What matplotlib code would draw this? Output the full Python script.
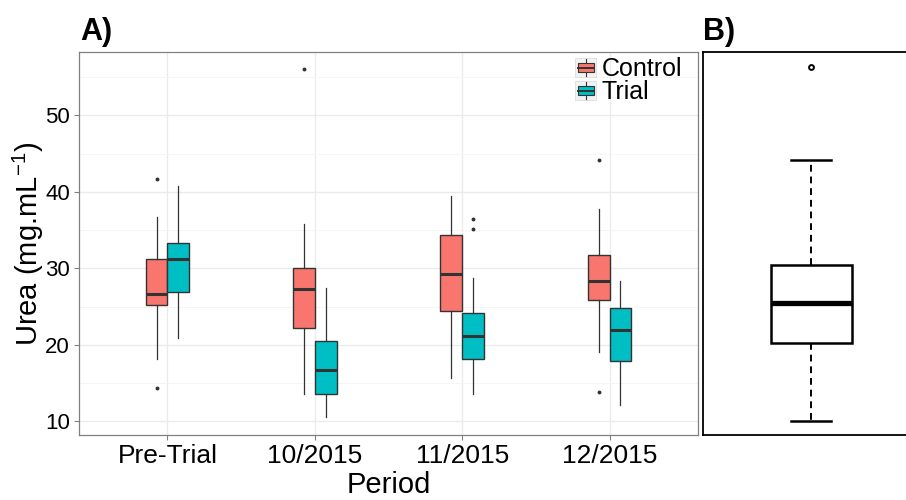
import numpy as np
import matplotlib
matplotlib.use("Agg")
import matplotlib.pyplot as plt
from matplotlib.legend_handler import HandlerBase
from matplotlib.patches import Patch, Rectangle
from matplotlib.lines import Line2D
from matplotlib.ticker import MultipleLocator

plt.rcParams['font.family'] = ['Liberation Sans', 'DejaVu Sans']

# data
periods = ["Pre-Trial", "10/2015", "11/2015", "12/2015"]

ctrl_med = [26.6, 27.3, 29.3, 28.3]
ctrl_q1 = [25.2, 22.2, 24.4, 25.8]
ctrl_q3 = [31.2, 30.0, 34.3, 31.7]
ctrl_lo = [18.1, 13.6, 15.7, 19.0]
ctrl_hi = [36.7, 35.8, 39.5, 37.7]
ctrl_out = [[41.7, 14.4], [56.1], [], [44.2, 13.8]]

trial_med = [31.2, 16.7, 21.2, 21.9]
trial_q1 = [26.9, 13.6, 18.1, 17.9]
trial_q3 = [33.3, 20.5, 24.2, 24.8]
trial_lo = [20.9, 10.5, 13.5, 12.1]
trial_hi = [40.8, 27.4, 28.7, 28.4]
trial_out = [[], [], [36.5, 35.2], []]

# all samples pooled (panel B)
all_med = 25.5
all_q1 = 20.2
all_q3 = 30.4
all_lo = 10.0
all_hi = 44.2
all_out = [56.4]

groups = ["Control", "Trial"]
colors = ["#F8766D", "#00BFC4"]


def make_stats(med, q1, q3, lo, hi, out):
    return [dict(med=m, q1=a, q3=b, whislo=l, whishi=h, fliers=f)
            for m, a, b, l, h, f in zip(med, q1, q3, lo, hi, out)]


class BoxKey(HandlerBase):
    def create_artists(self, legend, orig_handle, xdescent, ydescent,
                       width, height, fontsize, trans):
        x0, y0 = -xdescent, -ydescent
        cx = x0 + width / 2
        bg = Rectangle((x0, y0 - 0.1 * height), width, 1.2 * height,
                       facecolor="#F2F2F2", edgecolor="#DDDDDD", lw=0.6,
                       transform=trans)
        wl = Line2D([cx, cx], [y0 - 0.05 * height, y0 + 1.05 * height],
                    color="#333333", lw=0.8, transform=trans)
        box = Rectangle((x0 + 0.12 * width, y0 + 0.2 * height), 0.76 * width,
                        0.6 * height, facecolor=orig_handle.get_facecolor(),
                        edgecolor="#333333", lw=0.8, transform=trans)
        md = Line2D([x0 + 0.12 * width, x0 + 0.88 * width],
                    [y0 + 0.5 * height] * 2, color="#333333", lw=1.4,
                    transform=trans)
        return [bg, wl, box, md]


fig = plt.figure(figsize=(9.06, 5.0), dpi=100)
ax = fig.add_axes([79 / 906, 1 - 435 / 500, 619 / 906, 383 / 500])
axb = fig.add_axes([703 / 906, 1 - 435 / 500, 212 / 906, 383 / 500])

# ---- panel A ----
pos = np.arange(1, len(periods) + 1)
off = 0.074
bw = 0.148
series = [
    make_stats(ctrl_med, ctrl_q1, ctrl_q3, ctrl_lo, ctrl_hi, ctrl_out),
    make_stats(trial_med, trial_q1, trial_q3, trial_lo, trial_hi, trial_out),
]
for k, (st, col) in enumerate(zip(series, colors)):
    ax.bxp(st, positions=pos + (2 * k - 1) * off, widths=bw,
           patch_artist=True, showcaps=False, manage_ticks=False,
           boxprops=dict(facecolor=col, edgecolor="#333333", lw=1.0),
           medianprops=dict(color="#333333", lw=2.2),
           whiskerprops=dict(color="#333333", lw=0.9),
           flierprops=dict(marker="o", markersize=1.8, markerfacecolor="#333333",
                           markeredgecolor="#333333"), zorder=3)

ax.set_xlim(0.4, 4.6)
ax.set_ylim(8.2, 58.3)
ax.set_xticks(pos)
ax.set_xticklabels(periods)
ax.yaxis.set_major_locator(MultipleLocator(10))
ax.yaxis.set_minor_locator(MultipleLocator(5))
ax.grid(which="major", color="#EBEBEB", lw=1.0, zorder=0)
ax.grid(which="minor", axis="y", color="#F4F4F4", lw=0.6, zorder=0)
ax.set_axisbelow(True)
for s in ax.spines.values():
    s.set_color("#808080")
    s.set_linewidth(0.9)
ax.tick_params(axis="both", which="major", length=3.5, width=0.8,
               color="#808080", labelcolor="black", pad=3)
ax.tick_params(axis="x", which="major", labelsize=19)
ax.tick_params(axis="y", which="major", labelsize=16)
ax.tick_params(axis="y", which="minor", length=0)
ax.set_xlabel("Period", fontsize=21, labelpad=2)
ax.set_ylabel("Urea (mg.mL$^{\\mathregular{-1}}$)", fontsize=21, labelpad=-1)

handles = [Patch(facecolor=c) for c in colors]
ax.legend(handles, groups, handler_map={Patch: BoxKey()},
          loc="upper right", bbox_to_anchor=(0.998, 1.025), frameon=False,
          fontsize=18, handlelength=0.85, handleheight=0.6,
          handletextpad=0.2, labelspacing=-0.04, borderpad=0.1)

fig.text(80 / 906, 1 - 32 / 500, "A)", fontsize=22, fontweight="bold",
         va="center", ha="left")

# ---- panel B ----
bstats = make_stats([all_med], [all_q1], [all_q3], [all_lo], [all_hi],
                    [all_out])
axb.bxp(bstats, positions=[1], widths=0.8, patch_artist=True,
        boxprops=dict(facecolor="white", edgecolor="black", lw=1.8),
        medianprops=dict(color="black", lw=3.8),
        whiskerprops=dict(color="black", lw=1.4, linestyle=(0, (3.5, 2.5))),
        capprops=dict(color="black", lw=1.8),
        capwidths=0.4,
        flierprops=dict(marker="o", markersize=3.5, markerfacecolor="none",
                        markeredgecolor="black", markeredgewidth=1.4))
upp = 81 / 0.8
axb.set_xlim(1 - 108 / upp, 1 + 104 / upp)
axb.set_ylim(8.2, 58.3)
axb.set_xticks([])
axb.set_yticks([])
for s in axb.spines.values():
    s.set_color("black")
    s.set_linewidth(1.3)

fig.text(703 / 906, 1 - 32 / 500, "B)", fontsize=22, fontweight="bold",
         va="center", ha="left")

fig.savefig("out.png", dpi=100)
